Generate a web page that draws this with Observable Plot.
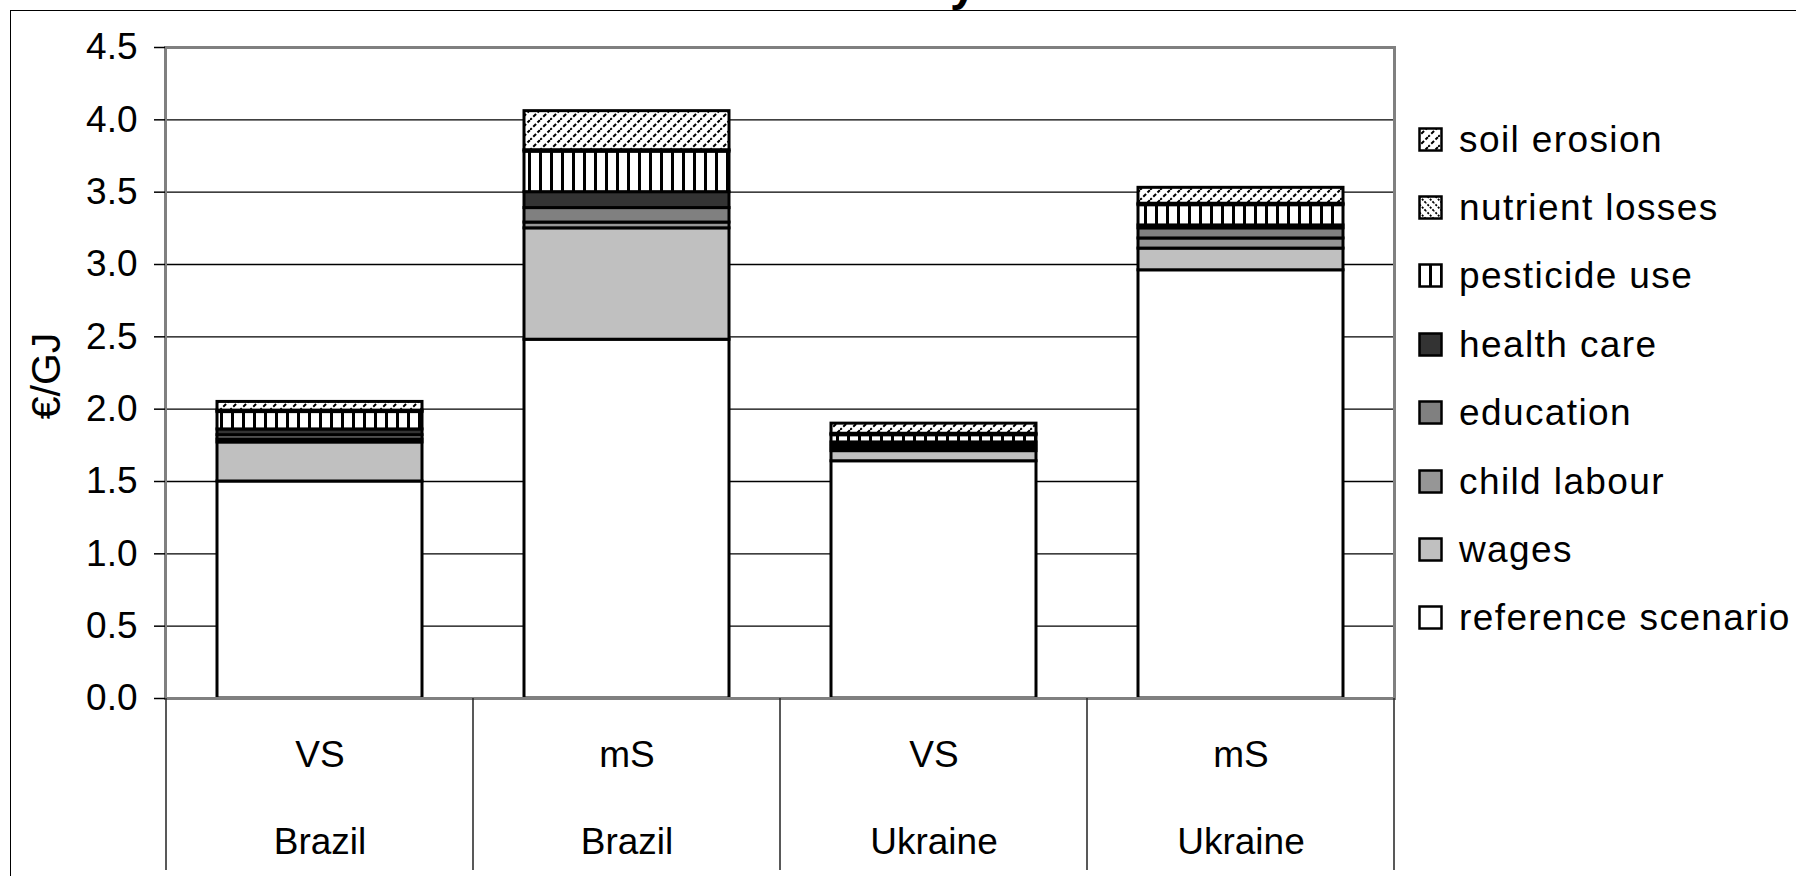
<!DOCTYPE html>
<html>
<head>
<meta charset="utf-8">
<script src="https://cdn.jsdelivr.net/npm/d3@7"></script>
<script src="https://cdn.jsdelivr.net/npm/@observablehq/plot@0.6"></script>
<style>
  html, body { margin: 0; padding: 0; background: #fff; }
  #wrap { position: relative; width: 1796px; height: 876px; overflow: hidden; font-family: "Liberation Sans", Arial, sans-serif; }
  #chart { position: absolute; left: 0; top: 0; }
  #outer { position: absolute; left: 10px; top: 10px; right: -10px; bottom: -10px; border-left: 1.5px solid #000; border-top: 1.5px solid #000; }
  #frag { position: absolute; left: 950px; top: -40px; font-size: 48px; font-weight: bold; line-height: 1; }
  #ylabel { position: absolute; left: 46px; top: 376px; transform: translate(-50%, -50%) rotate(-90deg); font-size: 41px; white-space: nowrap; }
  #legend { position: absolute; left: 1418px; top: 105.5px; }
  .item { display: flex; align-items: center; height: 68.4px; font-size: 37px; white-space: nowrap; letter-spacing: 1.4px; }
  .item svg { margin-right: 15px; flex: none; }
</style>
</head>
<body>
<div id="wrap">
  <div id="chart"></div>
  <div id="outer"></div>
  <div id="frag">y</div>
  <div id="ylabel">€/GJ</div>
  <div id="legend"></div>
</div>
<script>
// ---- data ----
const categories = ["Brazil VS", "Brazil mS", "Ukraine VS", "Ukraine mS"];
const scenarios = ["VS", "mS", "VS", "mS"];
const countries = ["Brazil", "Brazil", "Ukraine", "Ukraine"];
const components = ["reference scenario", "wages", "child labour", "education", "health care", "pesticide use", "nutrient losses", "soil erosion"];
const referenceScenario = [1.50, 2.48, 1.64, 2.96];
const wages            = [0.27, 0.77, 0.07, 0.15];
const childLabour      = [0.02, 0.04, 0.02, 0.07];
const education        = [0.03, 0.10, 0.02, 0.07];
const healthCare       = [0.04, 0.11, 0.02, 0.02];
const pesticideUse     = [0.12, 0.28, 0.05, 0.14];
const nutrientLosses   = [0.01, 0.01, 0.01, 0.01];
const soilErosion      = [0.06, 0.27, 0.07, 0.11];
const yTicks = [0, 0.5, 1, 1.5, 2, 2.5, 3, 3.5, 4, 4.5];
const legendOrder = ["soil erosion", "nutrient losses", "pesticide use", "health care", "education", "child labour", "wages", "reference scenario"];

const series = [referenceScenario, wages, childLabour, education, healthCare, pesticideUse, nutrientLosses, soilErosion];
const fills = ["#ffffff", "#c0c0c0", "#969696", "#808080", "#333333", "url(#pat-pest)", "url(#pat-nutr)", "url(#pat-soil)"];

const rows = components.flatMap((c, j) => categories.map((cat, i) => ({category: cat, component: c, value: series[j][i]})));

const chart = Plot.plot({
  width: 1796,
  height: 876,
  marginLeft: 165,
  marginRight: 402,
  marginTop: 47,
  marginBottom: 178,
  style: {fontFamily: "'Liberation Sans', Arial, sans-serif", fontSize: "37px", background: "transparent", color: "#000"},
  x: {type: "band", domain: categories, padding: 0, axis: null},
  y: {domain: [0, 4.5], axis: null},
  color: {type: "ordinal", domain: components, range: fills},
  marks: [
    Plot.ruleY(yTicks.filter(v => v > 0 && v < 4.5), {stroke: "#000", strokeWidth: 1.4}),
    Plot.barY(rows, {x: "category", y: "value", fill: "component", stroke: "#000", strokeWidth: 3, insetLeft: 51, insetRight: 51, order: components}),
    Plot.frame({stroke: "#808080", strokeWidth: 3}),
    Plot.axisY({ticks: yTicks, tickFormat: d3.format(".1f"), tickSize: 11, tickPadding: 17, label: null, stroke: "#000", strokeWidth: 1.5, fontSize: 37}),
    Plot.axisX({tickSize: 0, tickPadding: 42, label: null, fontSize: 37, tickFormat: d => scenarios[categories.indexOf(d)]}),
    Plot.axisX({tickSize: 0, tickPadding: 129, label: null, fontSize: 37, tickFormat: d => countries[categories.indexOf(d)]})
  ]
});

// patterns
const svg = d3.select(chart);
const defs = svg.insert("defs", ":first-child");
const pPest = defs.append("pattern").attr("id", "pat-pest").attr("patternUnits", "userSpaceOnUse").attr("width", 11).attr("height", 11);
pPest.append("rect").attr("width", 11).attr("height", 11).attr("fill", "#fff");
pPest.append("rect").attr("x", 0).attr("width", 3).attr("height", 11).attr("fill", "#000");

const pSoil = defs.append("pattern").attr("id", "pat-soil").attr("patternUnits", "userSpaceOnUse").attr("width", 10).attr("height", 10);
pSoil.append("rect").attr("width", 10).attr("height", 10).attr("fill", "#fff");
pSoil.append("path").attr("d", "M-1,11 L11,-1 M-3,3 L3,-3 M7,13 L13,7").attr("stroke", "#000").attr("stroke-width", 2).attr("stroke-dasharray", "4,2");

const pNutr = defs.append("pattern").attr("id", "pat-nutr").attr("patternUnits", "userSpaceOnUse").attr("width", 8).attr("height", 8);
pNutr.append("rect").attr("width", 8).attr("height", 8).attr("fill", "#fff");
pNutr.append("path").attr("d", "M-1,-1 L9,9 M-5,3 L3,11 M3,-5 L11,3").attr("stroke", "#000").attr("stroke-width", 1.8).attr("stroke-dasharray", "2,1.5");

// category divider lines below the axis
const xs = chart.scale("x");
const ys = chart.scale("y");
const y0 = ys.apply(0);
const edges = categories.map(c => xs.apply(c)).concat([xs.apply(categories[categories.length - 1]) + xs.bandwidth]);
svg.append("g").selectAll("line").data(edges).join("line")
  .attr("x1", d => d).attr("x2", d => d)
  .attr("y1", y0).attr("y2", 870)
  .attr("stroke", "#222").attr("stroke-width", 1.5);

document.getElementById("chart").appendChild(chart);

// legend
const legend = d3.select("#legend");
legendOrder.forEach(name => {
  const item = legend.append("div").attr("class", "item");
  const s = item.append("svg").attr("width", 26).attr("height", 26);
  s.append("rect").attr("x", 1.5).attr("y", 1.5).attr("width", 22).attr("height", 22)
    .attr("fill", chart.scale("color").apply(name)).attr("stroke", "#000").attr("stroke-width", 2.5);
  item.append("span").text(name);
});
</script>
</body>
</html>
